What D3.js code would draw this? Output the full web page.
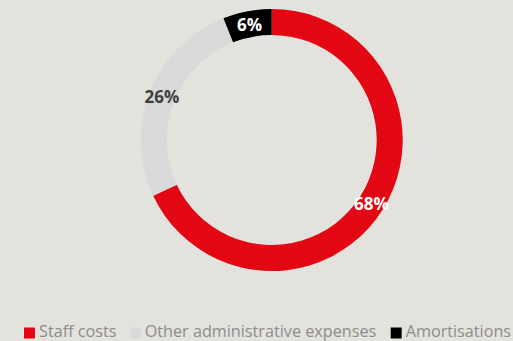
<!DOCTYPE html>
<html><head><meta charset="utf-8">
<script src="https://cdn.jsdelivr.net/npm/d3@7"></script>
<style>html,body{margin:0;padding:0;background:#e4e2dd;}svg{display:block;}</style>
</head><body>
<svg id="c" width="513" height="341"></svg>
<script>
const categories = ["Staff costs", "Other administrative expenses", "Amortisations"];
const values = [68, 26, 6];
const labels = ["68%", "26%", "6%"];
const colors = ["#e30613", "#d9d9d9", "#000000"];
const labelColors = ["#ffffff", "#404040", "#ffffff"];

const svg = d3.select("#c");
const W = 513, H = 341;
svg.append("rect").attr("width", W).attr("height", H).attr("fill", "#e4e2dd");
const cx = 271.7, cy = 140, rOuter = 131, rInner = 105;
const data = categories.map((c, i) => ({c, v: values[i], i}));
const pie = d3.pie().value(d => d.v).sort(null);
const arc = d3.arc().innerRadius(rInner).outerRadius(rOuter);
const labelArc = d3.arc().innerRadius(118).outerRadius(118);
const g = svg.append("g").attr("transform", `translate(${cx},${cy})`);
const arcs = pie(data);
g.selectAll("path").data(arcs).join("path")
  .attr("d", arc).attr("fill", d => colors[d.data.i]);
g.selectAll("text").data(arcs).join("text")
  .attr("transform", d => `translate(${labelArc.centroid(d)})`)
  .attr("text-anchor", "middle").attr("dy", "0.38em")
  .attr("font-family", "Open Sans, sans-serif").attr("font-weight", "bold")
  .attr("font-size", 17).attr("fill", d => labelColors[d.data.i])
  .text(d => labels[d.data.i]);

// legend
const legendX = [24, 129.7, 390.7];
const lg = svg.append("g");
categories.forEach((c, i) => {
  lg.append("rect").attr("x", legendX[i]).attr("y", 327.5).attr("width", 11).attr("height", 11).attr("fill", colors[i]);
  lg.append("text").attr("x", legendX[i] + 15).attr("y", 336.5)
    .attr("font-family", "Open Sans, sans-serif").attr("font-size", 16.2)
    .attr("fill", "#8c8c8c").text(c);
});
</script>
</body></html>
